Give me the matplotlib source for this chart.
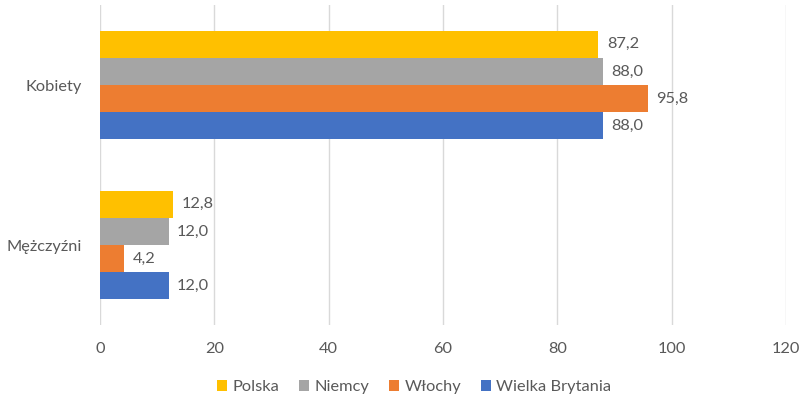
import matplotlib.pyplot as plt
import numpy as np

categories = ["Mężczyźni", "Kobiety"]
series_names = ["Polska", "Niemcy", "Włochy", "Wielka Brytania"]
polska = [12.8, 87.2]
niemcy = [12.0, 88.0]
wlochy = [4.2, 95.8]
wielka_brytania = [12.0, 88.0]
x_ticks = [0, 20, 40, 60, 80, 100, 120]

colors = ["#FFC000", "#A5A5A5", "#ED7D31", "#4472C4"]
text_color = "#595959"

plt.rcParams["font.family"] = ["Lato", "DejaVu Sans"]

fig = plt.figure(figsize=(8.05, 4.0), dpi=100)
ax = fig.add_axes([100 / 805, 75 / 400, 686 / 805, 320 / 400])

y = np.arange(len(categories))
h = 0.17
values = [polska, niemcy, wlochy, wielka_brytania]
# Polska on top within each group, Wielka Brytania at the bottom
offsets = [1.5 * h, 0.5 * h, -0.5 * h, -1.5 * h]

for name, vals, col, off in zip(series_names, values, colors, offsets):
    bars = ax.barh(y + off, vals, height=h, color=col, label=name, zorder=3)
    for b, v in zip(bars, vals):
        ax.text(b.get_width() + 1.5, b.get_y() + b.get_height() / 2,
                f"{v:.1f}".replace(".", ","), va="center", ha="left",
                fontsize=11.8, color=text_color)

ax.set_xlim(0, 120)
ax.set_ylim(-0.5, 1.5)
ax.set_xticks(x_ticks)
ax.set_yticks(y)
ax.set_yticklabels(categories)
ax.tick_params(axis="both", length=0, labelsize=11.8, labelcolor=text_color)
ax.tick_params(axis="x", pad=12)
ax.tick_params(axis="y", pad=13)
ax.grid(axis="x", color="#D9D9D9", linewidth=1, zorder=0)
for s in ax.spines.values():
    s.set_visible(False)

leg = fig.legend(loc="center", bbox_to_anchor=(414 / 805, 1 - 387 / 400), ncol=4,
                 frameon=False, fontsize=11.8, handlelength=0.65, handleheight=0.65,
                 handletextpad=0.3, columnspacing=1.2)
for t in leg.get_texts():
    t.set_color(text_color)

fig.savefig("out.png", dpi=100)
